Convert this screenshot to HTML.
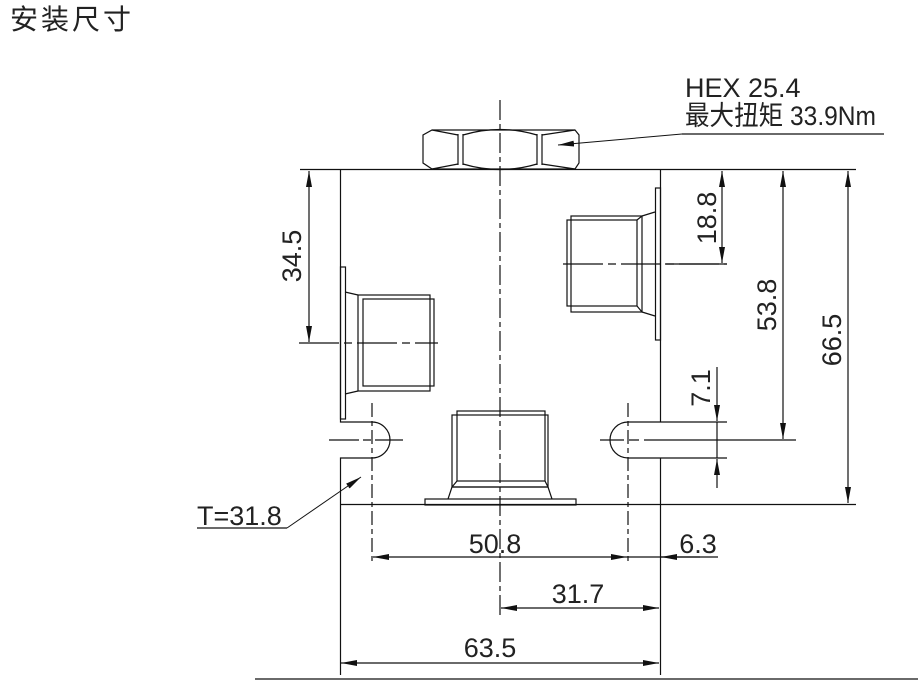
<!DOCTYPE html>
<html><head><meta charset="utf-8"><style>
html,body{margin:0;padding:0;background:#fff;width:918px;height:680px;overflow:hidden}
svg text{font-family:"Liberation Sans","Noto Sans CJK SC",sans-serif;fill:#222;font-size:27px}
svg text.t{font-family:"Noto Sans CJK SC",sans-serif;font-size:28px}
</style></head><body>
<svg width="918" height="680" viewBox="0 0 918 680" xmlns="http://www.w3.org/2000/svg">
<defs>
<marker id="a" viewBox="0 0 16 6" refX="16" refY="3" markerWidth="16" markerHeight="6" markerUnits="userSpaceOnUse" orient="auto"><path d="M0,0L16,3L0,6z" fill="#111"/></marker>
<marker id="b" viewBox="0 0 16 6" refX="0" refY="3" markerWidth="16" markerHeight="6" markerUnits="userSpaceOnUse" orient="auto"><path d="M16,0L0,3L16,6z" fill="#111"/></marker>
</defs>
<text class="t" x="10" y="29" letter-spacing="3">安装尺寸</text>
<g stroke="#111" stroke-width="1.2" fill="none">
<line x1="300" y1="169.5" x2="856" y2="169.5"/>
<line x1="340" y1="504.5" x2="856" y2="504.5"/>
<path d="M340.5,170V422H372M372,458H340.5V675"/>
<path d="M660.5,170V422M660.5,458V675"/>
<path d="M372,422A18,18 0 0 1 372,458"/>
<path d="M727,422H628A18,18 0 0 0 628,458H727"/>
<line x1="372" y1="403" x2="372" y2="563" stroke-dasharray="14,4,5,4"/>
<line x1="628" y1="403" x2="628" y2="565" stroke-dasharray="14,4,5,4"/>
<line x1="329" y1="440" x2="403" y2="440" stroke-dasharray="30,4,8,4"/>
<line x1="600" y1="440" x2="796" y2="440" stroke-dasharray="24,5,10,5,200"/>
<line x1="500" y1="100" x2="500" y2="617" stroke-dasharray="20,4,5,4"/>
<path d="M432,130H575L579,135V163L575,169H432L423,163V135Z"/>
<path d="M458,134V165M463,134V165M537,134V165M542,134V165"/>
<path d="M432,130L458,135M463,135Q500,124 537,135M542,135L575,130M432,169L458,164M463,164Q500,175 537,164M542,164L575,169"/>
<rect x="655.5" y="188" width="5" height="152"/>
<rect x="567" y="220" width="70" height="86"/>
<rect x="571" y="216" width="71" height="96"/>
<path d="M642,216L655,212M642,312L655,316M637,220L642,216M637,306L642,312"/>
<line x1="563" y1="264" x2="727" y2="264" stroke-dasharray="40,5,8,5"/>
<rect x="340.5" y="267" width="5" height="152"/>
<rect x="358" y="295" width="72" height="96"/>
<rect x="363" y="299" width="71" height="87"/>
<path d="M345,292L358,295M345,394L358,391"/>
<line x1="299" y1="343" x2="438" y2="343" stroke-dasharray="40,5,8,5"/>
<rect x="457" y="411" width="88" height="70"/>
<rect x="452" y="415" width="96" height="72"/>
<path d="M452,487L448,499M548,487L552,499M452,487H548M457,481L452,487M545,481L548,487"/>
<rect x="425" y="499" width="151" height="6"/>
<line x1="309" y1="171" x2="309" y2="342" marker-start="url(#b)" marker-end="url(#a)"/>
<line x1="722" y1="171" x2="722" y2="263" marker-start="url(#b)" marker-end="url(#a)"/>
<line x1="665" y1="264" x2="727" y2="264"/>
<line x1="783" y1="171" x2="783" y2="439" marker-start="url(#b)" marker-end="url(#a)"/>
<line x1="848" y1="171" x2="848" y2="503" marker-start="url(#b)" marker-end="url(#a)"/>
<line x1="717" y1="367" x2="717" y2="421" marker-end="url(#a)"/>
<line x1="717" y1="488" x2="717" y2="459" marker-end="url(#a)"/>
<line x1="717" y1="422" x2="717" y2="458"/>
<line x1="373" y1="557" x2="627" y2="557" marker-start="url(#b)" marker-end="url(#a)"/>
<line x1="627" y1="557" x2="718" y2="557"/>
<line x1="700" y1="557" x2="661" y2="557" marker-end="url(#a)"/>
<line x1="501" y1="608" x2="659" y2="608" marker-start="url(#b)" marker-end="url(#a)"/>
<line x1="341" y1="663" x2="659" y2="663" marker-start="url(#b)" marker-end="url(#a)"/>
<line x1="255" y1="679" x2="918" y2="679"/>
<line x1="884" y1="134" x2="682" y2="134"/>
<line x1="682" y1="134" x2="558" y2="145" stroke-width="1" marker-end="url(#a)"/>
<line x1="197" y1="528" x2="287" y2="528"/>
<line x1="287" y1="528" x2="361" y2="477" stroke-width="1" marker-end="url(#a)"/>
</g>
<text x="685" y="97">HEX 25.4</text>
<text x="685" y="125" textLength="191" lengthAdjust="spacingAndGlyphs">最大扭矩 33.9Nm</text>
<text x="197" y="525">T=31.8</text>
<text x="495" y="553" text-anchor="middle">50.8</text>
<text x="698" y="553" text-anchor="middle">6.3</text>
<text x="578" y="603" text-anchor="middle">31.7</text>
<text x="490" y="657" text-anchor="middle">63.5</text>
<text transform="translate(301,256) rotate(-90)" text-anchor="middle">34.5</text>
<text transform="translate(716,218) rotate(-90)" text-anchor="middle">18.8</text>
<text transform="translate(776,305) rotate(-90)" text-anchor="middle">53.8</text>
<text transform="translate(841,340) rotate(-90)" text-anchor="middle">66.5</text>
<text transform="translate(710,388) rotate(-90)" text-anchor="middle">7.1</text>
</svg>
</body></html>
